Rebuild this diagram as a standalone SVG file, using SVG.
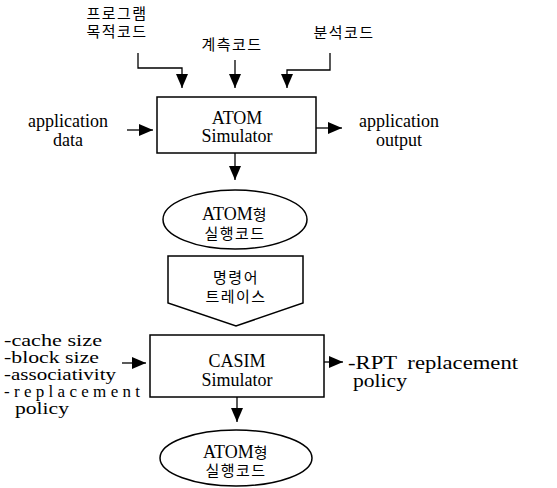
<svg xmlns="http://www.w3.org/2000/svg" width="557" height="488" viewBox="0 0 557 488">
<defs>
<marker id="ah" markerUnits="userSpaceOnUse" markerWidth="14" markerHeight="12" refX="14" refY="6" orient="auto">
<path d="M0,0 L14,6 L0,12 Z" fill="#000"/>
</marker>
<style>
.lat{font-family:"Liberation Serif","Noto Sans CJK KR",serif;font-size:18px;fill:#000}
.sm{font-size:17px}
.kor{font-family:"Noto Sans CJK KR","Liberation Serif",sans-serif;font-size:15px;fill:#000;letter-spacing:1.5px}
.shape{fill:#fff;stroke:#000;stroke-width:1.5}
.conn{fill:none;stroke:#000;stroke-width:1.3}
</style>
</defs>
<rect width="557" height="488" fill="#fff"/>

<g id="in-program">
<text class="kor" x="117" y="19" text-anchor="middle">프로그램</text>
<text class="kor" x="117" y="37" text-anchor="middle">목적코드</text>
</g>
<g id="in-measure">
<text class="kor" x="232" y="50" text-anchor="middle">계측코드</text>
</g>
<g id="in-analysis">
<text class="kor" x="344" y="38" text-anchor="middle">분석코드</text>
</g>

<g id="atom-sim">
<rect class="shape" x="157" y="97" width="159" height="56"/>
<text class="lat" x="237" y="124" text-anchor="middle">ATOM</text>
<text class="lat" x="237" y="142" text-anchor="middle">Simulator</text>
</g>

<g id="app-data">
<text class="lat" x="68" y="127" text-anchor="middle">application</text>
<text class="lat" x="68" y="146" text-anchor="middle">data</text>
</g>
<g id="app-output">
<text class="lat" x="399" y="127" text-anchor="middle">application</text>
<text class="lat" x="399" y="146" text-anchor="middle">output</text>
</g>

<g id="atom-exe-1">
<ellipse class="shape" cx="235" cy="219.5" rx="72" ry="29.5"/>
<text class="lat" x="235" y="220" text-anchor="middle">ATOM<tspan class="kor" style="font-size:15px">형</tspan></text>
<text class="kor" x="235" y="239" text-anchor="middle">실행코드</text>
</g>

<g id="trace">
<path class="shape" d="M168,256 H303 V303 L236,326 L168,303 Z"/>
<text class="kor" x="236" y="283" text-anchor="middle">명령어</text>
<text class="kor" x="236" y="302" text-anchor="middle">트레이스</text>
</g>

<g id="casim-sim">
<rect class="shape" x="150" y="335" width="174" height="62"/>
<text class="lat" x="237" y="367" text-anchor="middle">CASIM</text>
<text class="lat" x="237" y="386" text-anchor="middle">Simulator</text>
</g>

<g id="cache-params">
<text class="lat sm" x="4" y="346" textLength="98" lengthAdjust="spacingAndGlyphs">-cache size</text>
<text class="lat sm" x="4" y="363" textLength="95" lengthAdjust="spacingAndGlyphs">-block size</text>
<text class="lat sm" x="4" y="380" textLength="112" lengthAdjust="spacingAndGlyphs">-associativity</text>
<text class="lat sm" x="4" y="397" textLength="136" lengthAdjust="spacing">-replacement</text>
<text class="lat sm" x="15" y="414" textLength="54" lengthAdjust="spacingAndGlyphs">policy</text>
</g>

<g id="rpt">
<text class="lat" x="348" y="369" textLength="170" lengthAdjust="spacingAndGlyphs" word-spacing="4">-RPT replacement</text>
<text class="lat" x="353" y="387" textLength="54" lengthAdjust="spacingAndGlyphs">policy</text>
</g>

<g id="atom-exe-2">
<ellipse class="shape" cx="236" cy="458" rx="76" ry="28"/>
<text class="lat" x="236" y="458" text-anchor="middle">ATOM<tspan class="kor" style="font-size:15px">형</tspan></text>
<text class="kor" x="236" y="476" text-anchor="middle">실행코드</text>
</g>

<g id="connectors">
<path class="conn" d="M138,53 V68 H182 V88" marker-end="url(#ah)"/>
<path class="conn" d="M235,60 V88" marker-end="url(#ah)"/>
<path class="conn" d="M330,53 V70 H287 V88" marker-end="url(#ah)"/>
<path class="conn" d="M127,130 H153" marker-end="url(#ah)"/>
<path class="conn" d="M316,128 H342" marker-end="url(#ah)"/>
<path class="conn" d="M235,153 V180" marker-end="url(#ah)"/>
<path class="conn" d="M122,363 H146" marker-end="url(#ah)"/>
<path class="conn" d="M324,362 H343" marker-end="url(#ah)"/>
<path class="conn" d="M237,397 V422" marker-end="url(#ah)"/>
</g>
</svg>
